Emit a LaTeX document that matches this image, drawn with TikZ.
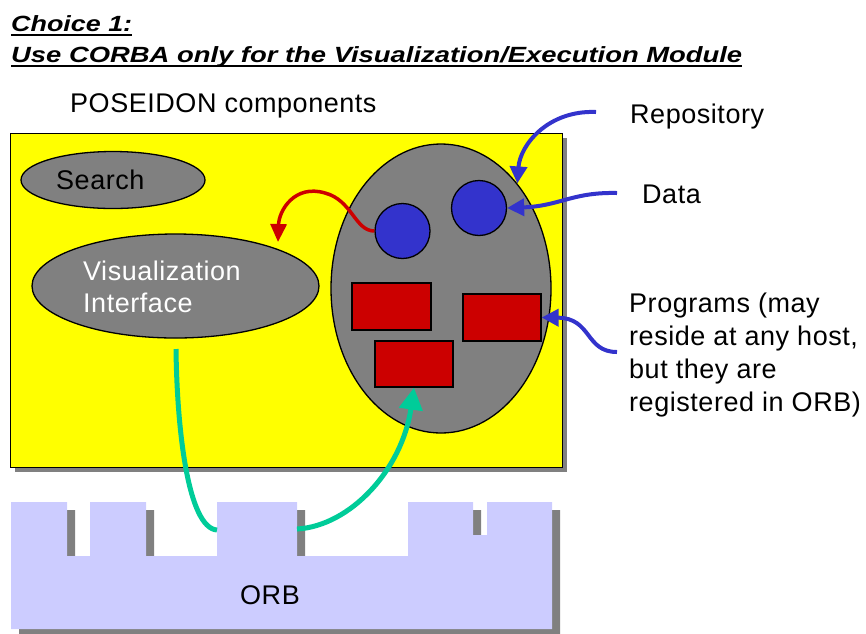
\documentclass[tikz,border=0pt]{standalone}
\usepackage{fontspec}
\setmainfont{Liberation Sans}
\newfontfamily\lblfont[LetterSpace=2]{Liberation Sans}
\usepackage{graphicx}
\usetikzlibrary{shapes.geometric,arrows.meta}
\definecolor{bgyellow}{HTML}{FFFF00}
\definecolor{shapegrey}{HTML}{808080}
\definecolor{dotblue}{HTML}{3333CC}
\definecolor{progred}{HTML}{CC0000}
\definecolor{linkgreen}{HTML}{00CC99}
\definecolor{orbfill}{HTML}{CCCCFF}
\begin{document}
\begin{tikzpicture}[x=1pt,y=-1pt,
  lbl/.style={font=\lblfont\fontsize{27}{33}\selectfont, anchor=base west, inner sep=0pt},
  ttl/.style={font=\fontsize{22}{26}\selectfont\bfseries\itshape, anchor=base west, inner sep=0pt},
  ell/.style={ellipse, draw=black, line width=1.3pt, fill=shapegrey, inner sep=0pt},
  dot/.style={circle, draw=black, line width=1.3pt, fill=dotblue, minimum size=55pt, inner sep=0pt},
  prog/.style={rectangle, draw=black, line width=1.3pt, fill=progred, minimum width=78pt, minimum height=46pt, inner sep=0pt},
  bluearrow/.style={draw=dotblue, line width=4pt, -{Triangle[length=17pt,width=17pt]}},
  redarrow/.style={draw=progred, line width=3.5pt, -{Triangle[length=18pt,width=16pt]}},
  greenline/.style={draw=linkgreen, line width=5pt},
  greenarrow/.style={draw=linkgreen, line width=5pt, -{Triangle[length=22pt,width=23pt]}}
]
\useasboundingbox (0,0) rectangle (866,633);

% title
\node[ttl] (t1) at (11,31) {\resizebox{121pt}{\height}{Choice 1:}};
\node[ttl] (t2) at (11,62) {\resizebox{731pt}{\height}{Use CORBA only for the Visualization/Execution Module}};
\draw[line width=2pt] (11,35) -- (132,35);
\draw[line width=2pt] (11,66) -- (742,66);

\node[lbl] (pos) at (70,112) {POSEIDON components};

% yellow frame
\fill[shapegrey] (15,138) rectangle (567,472);
\node[draw=black, line width=1pt, fill=bgyellow, minimum width=552pt, minimum height=334pt, inner sep=0pt, anchor=north west] (frame) at (10,133) {};

% ellipses
\node[ell, minimum width=184pt, minimum height=57pt] (search) at (113,180) {};
\node[lbl] (searchtxt) at (56,189) {Search};
\node[ell, minimum width=287pt, minimum height=104pt] (vis) at (175.5,286) {};
\node[lbl, text=white] (vis1) at (83,280) {Visualization};
\node[lbl, text=white] (vis2) at (83,312) {Interface};

\node[ell, minimum width=220pt, minimum height=289pt] (big) at (441,288.5) {};
\node[dot] (c1) at (402.5,231) {};
\node[dot] (c2) at (479,208) {};
\node[prog, minimum width=79pt, minimum height=47pt] (r1) at (391.5,306.5) {};
\node[prog, minimum height=47pt] (r2) at (502,317.5) {};
\node[prog] (r3) at (414,364) {};

% ORB
\fill[shapegrey, shift={(8,8)}] (11,629) -- (11,502) -- (67,502) -- (67,556) -- (90,556) -- (90,502) -- (146,502) -- (146,556) -- (217,556) -- (217,502) -- (297,502) -- (297,556) -- (408,556) -- (408,502) -- (473,502) -- (473,535) -- (487,535) -- (487,502) -- (552,502) -- (552,629) -- cycle;
\fill[orbfill] (11,629) -- (11,502) -- (67,502) -- (67,556) -- (90,556) -- (90,502) -- (146,502) -- (146,556) -- (217,556) -- (217,502) -- (297,502) -- (297,556) -- (408,556) -- (408,502) -- (473,502) -- (473,535) -- (487,535) -- (487,502) -- (552,502) -- (552,629) -- cycle;
\node[font=\lblfont\fontsize{27}{33}\selectfont, anchor=base, inner sep=0pt] (orb) at (270,604) {ORB};
\coordinate (tabL) at (217,530);
\coordinate (tabR) at (297,529);
\coordinate (gA) at (176,349);

% connectors
\draw[greenline] (gA) .. controls (177,430) and (188,528) .. (tabL);
\draw[greenarrow] (tabR) .. controls (350,526) and (402,470) .. (r3.south);

\coordinate (redtip) at (278,242);
\draw[redarrow] (c1.west) .. controls (355,231) and (352,200) .. (325,193) .. controls (295,184) and (279,210) .. (redtip);

\coordinate (repstart) at (596,112);
\coordinate (datastart) at (617,193);
\coordinate (progstart) at (617,352);
\draw[bluearrow] (repstart) .. controls (548,110) and (520,145) .. (big.54);
\draw[bluearrow] (datastart) .. controls (572,192) and (560,206) .. (c2.east);
\draw[bluearrow] (progstart) .. controls (585,352) and (592,318) .. (r2.east);

% labels
\node[lbl] (rep) at (630,123) {Repository};
\node[lbl] (data) at (642,203) {Data};
\node[lbl] (pa) at (629,312) {Programs (may};
\node[lbl] (pb) at (629,345) {reside at any host,};
\node[lbl] (pc) at (629,378) {but they are};
\node[lbl] (pd) at (629,411) {registered in ORB)};
\end{tikzpicture}
\end{document}
